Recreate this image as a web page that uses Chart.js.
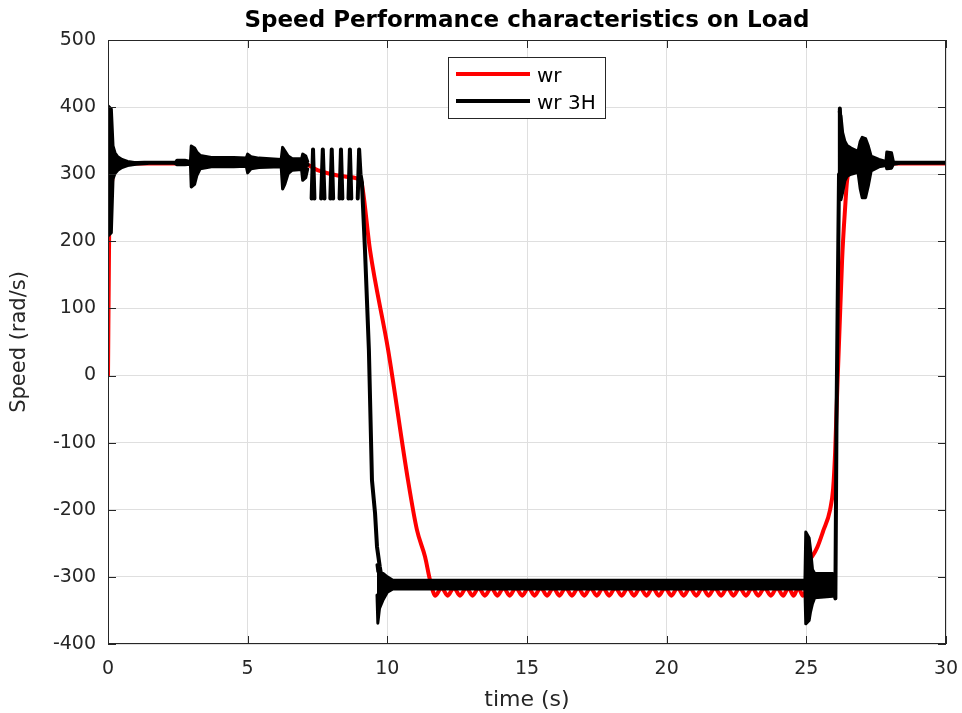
<!DOCTYPE html>
<html>
<head>
<meta charset="utf-8">
<title>Speed Performance characteristics on Load</title>
<script src="https://cdn.jsdelivr.net/npm/chart.js@4.4.1/dist/chart.umd.min.js"></script>
<style>
  html, body { margin: 0; padding: 0; background: #fff; }
  #wrap { width: 962px; height: 713px; position: relative; }
</style>
</head>
<body>
<div id="wrap"><canvas id="speedChart"></canvas></div>
<script>
// ---- Data ----
const chartTitle = 'Speed Performance characteristics on Load';
const seriesNames = ['wr', 'wr 3H'];
const xTickValues = [0, 5, 10, 15, 20, 25, 30];
const yTickValues = [-400, -300, -200, -100, 0, 100, 200, 300, 400, 500];

// wr (red)
const timeRed = [0, 0.04, 0.1, 0.2, 0.4, 1.0, 7.0, 7.5, 8.0, 8.6, 9.0, 9.09, 9.38, 10.03, 10.74, 11.06, 11.35, 11.53,
  11.72, 11.94, 12.16, 12.38, 12.60, 12.83, 13.05, 13.27, 13.49, 13.72, 13.94, 14.16, 14.38, 14.60, 14.83, 15.05,
  15.27, 15.49, 15.72, 15.94, 16.16, 16.38, 16.61, 16.83, 17.05, 17.27, 17.50, 17.72, 17.94, 18.16, 18.39, 18.61,
  18.83, 19.05, 19.28, 19.50, 19.72, 19.94, 20.17, 20.39, 20.61, 20.83, 21.06, 21.28, 21.50, 21.72, 21.95, 22.17,
  22.39, 22.61, 22.84, 23.06, 23.28, 23.50, 23.73, 23.95, 24.17, 24.36, 24.55, 24.71, 24.88,
  24.98, 25.08, 25.2, 25.39, 25.6, 25.85, 25.96, 26.03, 26.07, 26.28, 26.39, 26.46, 26.6, 27.0, 30];
const speedRed = [0, 205, 268, 302, 313, 316, 316, 306, 300, 296, 292, 285, 187, 38, -156, -230, -270, -305,
  -328, -316, -328, -316, -328, -316, -328, -316, -328, -316, -328, -316, -328, -316, -328, -316,
  -328, -316, -328, -316, -328, -316, -328, -316, -328, -316, -328, -316, -328, -316, -328, -316,
  -328, -316, -328, -316, -328, -316, -328, -316, -328, -316, -328, -316, -328, -316, -328, -316,
  -328, -316, -328, -316, -328, -316, -328, -316, -328, -316, -328, -316, -328,
  -318, -278, -270, -256, -232, -200, -168, -115, -66, 172, 251, 291, 310, 316, 316];

// wr 3H (black) centre trace, null = break between the comb bursts
const timeBlack = [0, 0.03, 0.15, 0.6, 1.3, 2.4, 2.9, 3.0, 3.3, 4.0, 5.0, 6.0, 6.5, 7.15, 7.22,
  7.29, 7.34, 7.39, 7.5,
  7.63, 7.69, 7.75, 7.85,
  7.96, 8.01, 8.06, 8.18,
  8.29, 8.34, 8.39, 8.5,
  8.61, 8.66, 8.71, 8.82,
  8.94, 8.99, 9.04, 9.09, 9.2, 9.34, 9.45, 9.56, 9.63, 9.73, 9.82, 10.0, 25.0, 25.98, 26.04, 26.08,
  26.17, 26.2, 26.26, 26.5, 28.3, 30];
const speedBlack = [215, 330, 318, 316, 317, 317, 317, 312, 318, 318, 316, 317, 315, 314, null,
  264, 337, 264, null,
  264, 337, 264, null,
  264, 337, 264, null,
  264, 337, 264, null,
  264, 337, 264, null,
  264, 337, 300, 288, 187, 38, -156, -205, -255, -285, -308, -315, -315, -316, -332, -66,
  300, 398, 330, 318, 317, 317];

// wr 3H oscillation envelope (upper / lower), null = no band
const timeBand = [0.00, 0.12, 0.18, 0.25, 0.35, 0.5, 0.7, 1.0, 1.4, 1.5,
  2.40, 2.47, 2.75, 2.95, 2.98, 3.10, 3.18, 3.30, 3.7, 4.5, 4.95, 5.00, 5.12, 5.4, 6.2, 6.25, 6.33, 6.45, 6.6, 6.93, 6.97, 7.08, 7.15, 7.2,
  9.63, 9.66, 9.72, 9.85, 10.0, 10.2, 24.95, 24.98, 25.10, 25.15, 25.22, 25.30, 25.95, 26.02, 26.1,
  26.18, 26.24, 26.3, 26.38, 26.46, 26.6, 26.85, 26.93, 27.0, 27.12, 27.22, 27.32, 27.6, 27.85, 27.88, 28.05, 28.12, 28.3];
const bandUpper = [402, 397, 342, 332, 326, 322, 319, 317, 316, null,
  316, 321, 321, 319, 342, 339, 333, 328, 325, 325, 324, 330, 326, 324, 322, 340, 335, 327, 323, 323, 330, 327, 319, null,
  -282, -292, -294, -295, -300, -305, -305, -233, -242, -259, -289, -295, -295, -297, null,
  393, 387, 362, 349, 343, 339, 334, 349, 355, 353, 342, 327, 322, 319, 333, 332, 318, 316];
const bandLower = [208, 213, 293, 301, 306, 310, 313, 315, 316, null,
  316, 314, 314, 315, 281, 285, 298, 308, 311, 311, 312, 302, 308, 310, 311, 278, 285, 301, 306, 307, 291, 295, 308, null,
  -327, -369, -347, -334, -323, -318, -318, -370, -365, -352, -340, -331, -329, -327, null,
  263, 262, 273, 290, 297, 300, 303, 278, 265, 265, 283, 305, 311, 313, 308, 309, 315, 316];

const toPoints = (xs, ys) => xs.map((x, i) => ({ x, y: ys[i] }));

const FONT = '"DejaVu Sans", "Liberation Sans", sans-serif';
const AXIS_COLOR = '#262626';

// ---- Box, inward ticks, title and legend (MATLAB style) ----
const matlabFrame = {
  id: 'matlabFrame',
  afterDraw(chart) {
    const { ctx, chartArea: a, scales: { x, y } } = chart;
    ctx.save();
    ctx.strokeStyle = AXIS_COLOR;
    ctx.lineWidth = 1;
    ctx.strokeRect(a.left + 0.5, a.top + 0.5, a.right - a.left - 1, a.bottom - a.top - 1);

    const tick = 8;
    ctx.beginPath();
    xTickValues.forEach(v => {
      const px = Math.round(x.getPixelForValue(v)) + 0.5;
      ctx.moveTo(px, a.bottom); ctx.lineTo(px, a.bottom - tick);
      ctx.moveTo(px, a.top); ctx.lineTo(px, a.top + tick);
    });
    yTickValues.forEach(v => {
      const py = Math.round(y.getPixelForValue(v)) + 0.5;
      ctx.moveTo(a.left, py); ctx.lineTo(a.left + tick, py);
      ctx.moveTo(a.right, py); ctx.lineTo(a.right - tick, py);
    });
    ctx.stroke();

    // title
    ctx.fillStyle = '#000';
    ctx.font = 'bold 23px ' + FONT;
    ctx.textAlign = 'center';
    ctx.textBaseline = 'middle';
    ctx.fillText(chartTitle, (a.left + a.right) / 2, 21);

    // legend box
    const bx = a.left + 340, by = a.top + 17, bw = 157, bh = 61;
    ctx.fillStyle = '#fff';
    ctx.fillRect(bx, by, bw, bh);
    ctx.strokeStyle = AXIS_COLOR;
    ctx.lineWidth = 1;
    ctx.strokeRect(bx + 0.5, by + 0.5, bw, bh);
    const colors = ['#ff0000', '#000000'];
    ctx.lineWidth = 4;
    ctx.textAlign = 'left';
    ctx.textBaseline = 'alphabetic';
    ctx.font = '20px ' + FONT;
    seriesNames.forEach((name, i) => {
      const ly = by + 17 + i * 27;
      ctx.strokeStyle = colors[i];
      ctx.beginPath();
      ctx.moveTo(bx + 8, ly); ctx.lineTo(bx + 82, ly);
      ctx.stroke();
      ctx.fillStyle = '#000';
      ctx.fillText(name, bx + 89, ly + 8);
    });
    ctx.restore();
  }
};

const lineBase = {
  pointRadius: 0,
  pointHoverRadius: 0,
  borderJoinStyle: 'round',
  borderCapStyle: 'round',
  spanGaps: false,
};

new Chart(document.getElementById('speedChart'), {
  type: 'line',
  data: {
    datasets: [
      {
        ...lineBase,
        label: seriesNames[0],
        data: toPoints(timeRed, speedRed),
        borderColor: '#ff0000',
        borderWidth: 4,
        cubicInterpolationMode: 'monotone',
        fill: false,
        order: 3,
      },
      {
        ...lineBase,
        label: seriesNames[1],
        data: toPoints(timeBlack, speedBlack),
        borderColor: '#000000',
        borderWidth: 4,
        fill: false,
        order: 1,
      },
      {
        ...lineBase,
        label: seriesNames[1] + ' upper',
        data: toPoints(timeBand, bandUpper),
        borderColor: '#000000',
        backgroundColor: '#000000',
        borderWidth: 3,
        fill: '+1',
        order: 1,
      },
      {
        ...lineBase,
        label: seriesNames[1] + ' lower',
        data: toPoints(timeBand, bandLower),
        borderColor: '#000000',
        borderWidth: 3,
        fill: false,
        order: 1,
      },
    ]
  },
  options: {
    responsive: true,
    maintainAspectRatio: false,
    animation: false,
    events: [],
    layout: { padding: { top: 40, right: 16, left: 0, bottom: 0 } },
    plugins: {
      legend: { display: false },
      tooltip: { enabled: false },
      title: { display: false },
    },
    scales: {
      x: {
        type: 'linear',
        min: 0,
        max: 30,
        afterBuildTicks: s => { s.ticks = xTickValues.map(v => ({ value: v })); },
        afterFit: s => { s.height = 69; s.paddingLeft = 0; s.paddingRight = 0; },
        grid: { color: '#dfdfdf', drawTicks: false },
        border: { display: false },
        ticks: { color: AXIS_COLOR, padding: 14, maxRotation: 0, font: { family: FONT, size: 19 } },
        title: {
          display: true, text: 'time (s)', color: AXIS_COLOR,
          font: { family: FONT, size: 22 }, padding: { top: 3, bottom: 0 }
        }
      },
      y: {
        type: 'linear',
        min: -400,
        max: 500,
        afterBuildTicks: s => { s.ticks = yTickValues.map(v => ({ value: v })); },
        afterFit: s => { s.width = 108; s.paddingTop = 0; s.paddingBottom = 0; },
        grid: { color: '#dfdfdf', drawTicks: false },
        border: { display: false },
        ticks: { color: AXIS_COLOR, padding: 12, font: { family: FONT, size: 19 } },
        title: {
          display: true, text: 'Speed (rad/s)', color: AXIS_COLOR,
          font: { family: FONT, size: 21 }, padding: { top: 7, bottom: 0 }
        }
      }
    }
  },
  plugins: [matlabFrame]
});
</script>
</body>
</html>
